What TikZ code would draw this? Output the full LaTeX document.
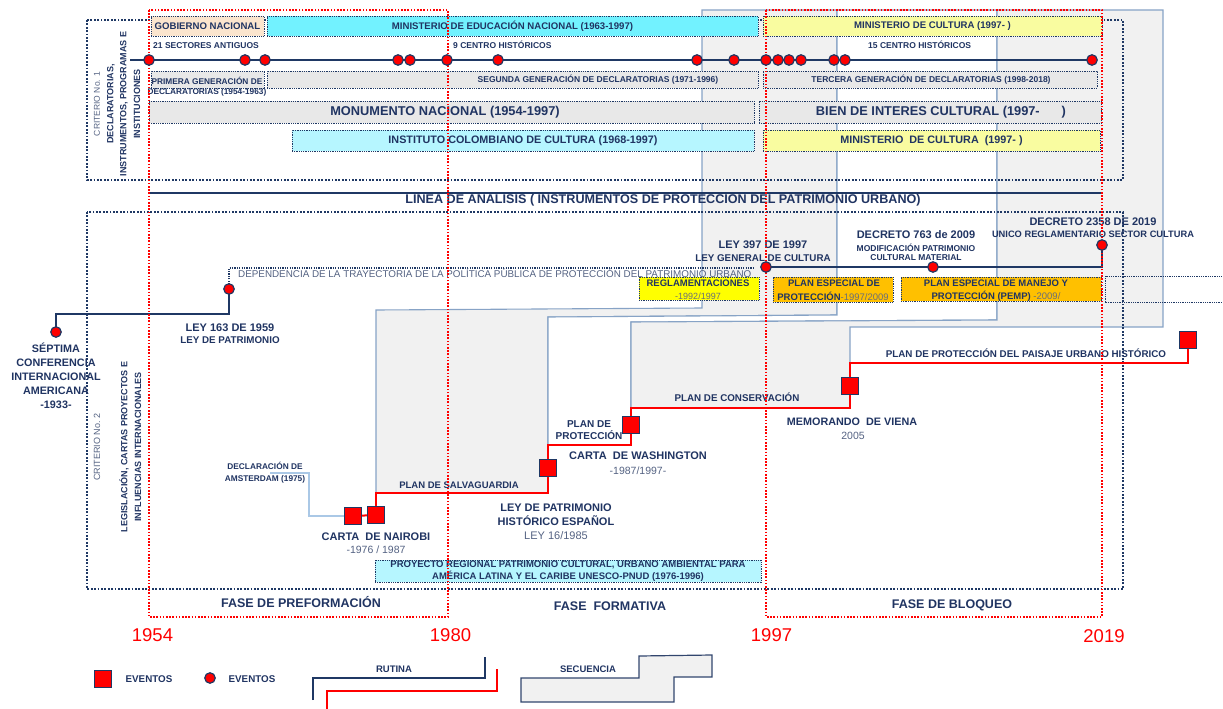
\documentclass[tikz,border=0pt]{standalone}
\usepackage{fontspec}
\setmainfont{Liberation Sans}
\definecolor{navy}{RGB}{31,56,100}
\definecolor{txtnavy}{RGB}{32,52,98}
\definecolor{grayblue}{RGB}{84,98,130}
\definecolor{gtext}{RGB}{105,110,120}
\definecolor{cyanbox}{RGB}{114,242,255}
\definecolor{lcyan}{RGB}{182,246,255}
\definecolor{lyellow}{RGB}{249,252,160}
\definecolor{peach}{RGB}{251,229,206}
\definecolor{gbox}{RGB}{232,232,232}
\definecolor{sgray}{RGB}{241,241,241}
\definecolor{sborder}{RGB}{135,163,198}
\definecolor{orangebox}{RGB}{255,192,0}
\definecolor{ybright}{RGB}{255,255,0}
\definecolor{amsline}{RGB}{170,200,230}
\definecolor{pred}{RGB}{255,0,0}
\definecolor{legborder}{RGB}{50,70,110}
\begin{document}
\begin{tikzpicture}[x=1pt,y=-1pt,
  lab/.style={inner sep=0pt},
  tb/.style={text=txtnavy, font=\bfseries\fontsize{#1}{#1}\selectfont},
  tr/.style={text=grayblue, font=\mdseries\fontsize{#1}{#1}\selectfont},
  tbl/.style 2 args={text=txtnavy, align=center, font=\bfseries\fontsize{#1}{#2}\selectfont},
  box/.style={draw=navy, line width=0.9pt, dash pattern=on 0.9pt off 0.9pt, inner sep=0pt},
  crit/.style={draw=navy, line width=1.8pt, dash pattern=on 1.8pt off 1.6pt},
  phase/.style={draw=pred, line width=1.8pt, dash pattern=on 1.6pt off 1.6pt},
  seq/.style={draw=sborder, line width=1.1pt},
  dot/.style={circle, fill=pred, draw=navy, line width=1.2pt, minimum size=10.5pt, inner sep=0pt},
  sq/.style={rectangle, fill=pred, draw=navy, line width=1.2pt, minimum size=17pt, inner sep=0pt},
  npath/.style={draw=navy, line width=2pt},
  rpath/.style={draw=pred, line width=2pt},
  ndotted/.style={draw=navy, line width=1.2pt, dash pattern=on 1.2pt off 1.2pt}
]
\useasboundingbox (0,0) rectangle (1223,709);

% ---- sequence background shapes
\filldraw[seq, fill=sgray] (376,310) -- (376,493) -- (548,493) -- (548,317) -- (837,315) -- (837,10) -- (702,10) -- (702,308) -- cycle;
\filldraw[seq, fill=white] (548,317) -- (548,445) -- (631,445) -- (631,322) -- (997,320) -- (997,10) -- (837,10) -- (837,315) -- cycle;
\filldraw[seq, fill=sgray] (631,322) -- (631,408) -- (850,408) -- (850,327) -- (1163,327) -- (1163,10) -- (997,10) -- (997,320) -- cycle;

% ---- criterio frames
\draw[crit] (87,20) rectangle (1123,180);
\draw[crit] (87,212) rectangle (1123,589);
\draw[box] (1105,276) rectangle (1230,302);

% ---- criterio labels
\node[lab, rotate=90, tr=8.5] (c1a) at (97,104) {CRITERIO No. 1};
\node[lab, rotate=90, tb=9] (c1b) at (111,104) {DECLARATORIAS,};
\node[lab, rotate=90, tb=9] (c1c) at (124,104) {INSTRUMENTOS, PROGRAMAS E};
\node[lab, rotate=90, tb=9] (c1d) at (137,104) {INSTITUCIONES};
\node[lab, rotate=90, tr=9] (c2a) at (97,447) {CRITERIO No. 2};
\node[lab, rotate=90, tb=9] (c2b) at (124,447) {LEGISLACIÓN, CARTAS PROYECTOS E};
\node[lab, rotate=90, tb=9] (c2c) at (138,447) {INFLUENCIAS INTERNACIONALES};

% ---- top boxes
\node[box, fill=peach, minimum width=113, minimum height=20, tb=9.6] (gob) at (207.5,26) {GOBIERNO NACIONAL};
\node[box, fill=cyanbox, minimum width=491, minimum height=20, tb=9.6] (minedu) at (512.5,26) {MINISTERIO DE EDUCACIÓN NACIONAL (1963-1997)};
\node[box, fill=lyellow, minimum width=339, minimum height=20, tb=9.6] (mincul) at (932.5,26) {MINISTERIO DE CULTURA (1997- )};

\node[lab, anchor=west, tb=8.5] (s21) at (153,46) {21 SECTORES ANTIGUOS};
\node[lab, anchor=west, tb=8.5] (c9) at (453,45) {9 CENTRO HISTÓRICOS};
\node[lab, anchor=west, tb=8.5] (c15) at (868,45) {15 CENTRO HISTÓRICOS};

% timeline
\coordinate (tl0) at (130,60);
\foreach \x [count=\i] in {149,245,265,398,410,447,498,697,734,766,778,789,801,834,845,1092}
  \coordinate (t\i) at (\x,60);
\draw[navy, line width=1.6pt] (tl0) -- (t16);

\node[box, fill=gbox, minimum width=113, minimum height=17] (gen1) at (207.5,79.5) {};
\node[box, fill=gbox, minimum width=491, minimum height=17] (gen2) at (512.5,79.5) {};
\node[box, fill=gbox, minimum width=334, minimum height=17] (gen3) at (930,79.5) {};
\node[lab, tbl={8.3}{10}] (g1t) at (207,87) {PRIMERA GENERACIÓN DE\\DECLARATORIAS (1954-1963)};
\node[lab, tb=8.5] (g2t) at (598,80) {SEGUNDA GENERACIÓN DE DECLARATORIAS (1971-1996)};
\node[lab, tb=8.5] (g3t) at (931,80) {TERCERA GENERACIÓN DE DECLARATORIAS (1998-2018)};

\node[box, fill=gbox, minimum width=605, minimum height=22] (mon) at (451.5,112) {};
\node[box, fill=gbox, minimum width=342, minimum height=22] (bic) at (930,112) {};
\node[lab, tb=12.8] (mont) at (445,112) {MONUMENTO NACIONAL (1954-1997)};
\node[lab, tb=12.8] (bict) at (941,112) {BIEN DE INTERES CULTURAL (1997-\hspace{22pt})};

\node[box, fill=lcyan, minimum width=462, minimum height=21, tb=10.8] (icc) at (523,140.5) {INSTITUTO COLOMBIANO DE CULTURA (1968-1997)};
\node[box, fill=lyellow, minimum width=337, minimum height=21, tb=10.8] (mc2) at (931.5,140.5) {MINISTERIO\ \ DE CULTURA\ \ (1997- )};

% linea de analisis
\coordinate (la0) at (149,193);
\coordinate (la1) at (1102,193);
\draw[navy, line width=2pt] (la0) -- (la1);
\node[lab, tb=12.6] (lat) at (663,200) {LINEA DE ANALISIS ( INSTRUMENTOS DE PROTECCION DEL PATRIMONIO URBANO)};

% ---- criterio 2: navy path
\coordinate (p1933) at (56,332);
\coordinate (k1) at (56,314);
\coordinate (p1959) at (229,289);
\coordinate (k2) at (229,268);
\coordinate (k3) at (753,268);
\draw[npath] (p1933) -- (k1) -| (p1959);
\draw[ndotted] (p1959) -- (k2) -- (k3);
\node[lab, anchor=west, tr=9.85] (dep) at (238,273) {DEPENDENCIA DE LA TRAYECTORIA DE LA POLÍTICA PÚBLICA DE PROTECCIÓN DEL PATRIMONIO URBANO};
\node[dot] (d1933) at (p1933) {};
\node[dot] (d1959) at (p1959) {};
\node[lab, tbl={10.8}{14}] (sept) at (56,376) {SÉPTIMA\\CONFERENCIA\\INTERNACIONAL\\AMERICANA\\-1933-};
\node[lab, tb=11] (l163a) at (230,328) {LEY 163 DE 1959};
\node[lab, tb=9.8] (l163b) at (230,340) {LEY DE PATRIMONIO};

% 1997-2019 path
\coordinate (p1997) at (766,267);
\coordinate (p2009) at (933,267);
\coordinate (k4) at (1102,267);
\coordinate (p2019) at (1102,245);
\draw[npath, line width=2.6pt] (p1997) -- (p2009) -- (k4) -- (p2019);
\node[lab, tb=11] (l397a) at (763,245) {LEY 397 DE 1997};
\node[lab, tb=9.8] (l397b) at (763,258) {LEY GENERAL DE CULTURA};
\node[lab, tb=11] (d763a) at (916,235) {DECRETO 763 de 2009};
\node[lab, tb=8.5] (d763b) at (916,248) {MODIFICACIÓN PATRIMONIO};
\node[lab, tb=8.5] (d763c) at (916,258) {CULTURAL MATERIAL};
\node[lab, tb=11] (d2358a) at (1093,222) {DECRETO 2358 DE 2019};
\node[lab, tb=9.3] (d2358b) at (1093,234) {UNICO REGLAMENTARIO SECTOR CULTURA};

% instrument boxes
\node[box, fill=ybright, minimum width=120, minimum height=23] (regl) at (699,288.5) {};
\node[lab, tb=9.5] (reglt) at (698,283) {REGLAMENTACIONES};
\node[lab, text=gtext, font=\fontsize{9}{9}\selectfont] (regld) at (698,296) {-1992/1997};
\node[box, fill=orangebox, minimum width=120, minimum height=25] (pep) at (833,289.5) {};
\node[lab, tb=9.5] (pepa) at (834,283) {PLAN ESPECIAL DE};
\node[lab, tb=9.5] (pepb) at (833,296) {PROTECCIÓN{\mdseries\color{gtext}-1997/2009}};
\node[box, fill=orangebox, minimum width=200, minimum height=24] (pemp) at (1001,289) {};
\node[lab, tb=9.5] (pempa) at (996,283) {PLAN ESPECIAL DE MANEJO Y};
\node[lab, tb=9.5] (pempb) at (996,296) {PROTECCIÓN (PEMP) {\mdseries\color{gtext}-2009/}};

% ---- red event path
\coordinate (sqA) at (353,516);
\coordinate (sqB) at (376,515);
\coordinate (sqC) at (548,468);
\coordinate (sqD) at (631,425);
\coordinate (sqE) at (850,386);
\coordinate (sqF) at (1188,340);
\coordinate (r1) at (376,493);
\coordinate (r2) at (548,445);
\coordinate (r3) at (631,408);
\coordinate (r4) at (850,363);
\coordinate (am0) at (270,473);
\coordinate (am1) at (309,473);
\coordinate (am2) at (309,516);
\draw[amsline, line width=1.3pt] (am0) -- (am1) -- (am2) -- (sqA);
\draw[rpath] (sqA) -- (sqB);
\draw[rpath] (sqB) -- (r1) -| (sqC);
\draw[rpath] (sqC) -- (r2) -| (sqD);
\draw[rpath] (sqD) -- (r3) -| (sqE);
\draw[rpath] (sqE) -- (r4) -| (sqF);

\node[lab, tbl={8.3}{12}] (ams) at (265,473) {DECLARACIÓN DE\\AMSTERDAM (1975)};
\node[lab, tb=9.5] (salv) at (459,485) {PLAN DE SALVAGUARDIA};
\node[lab, tbl={10}{12}] (pprot) at (589,430) {PLAN DE\\PROTECCIÓN};
\node[lab, tb=11] (wash) at (638,456) {CARTA\ \ DE WASHINGTON};
\node[lab, tr=10.5] (washd) at (638,471) {-1987/1997-};
\node[lab, tbl={11}{14}] (lpe) at (556,515) {LEY DE PATRIMONIO\\HISTÓRICO ESPAÑOL};
\node[lab, tr=11] (lped) at (556,536) {LEY 16/1985};
\node[lab, tb=11] (nai) at (376,537) {CARTA\ \ DE NAIROBI};
\node[lab, tr=10.5] (naid) at (376,550) {-1976 / 1987};
\node[lab, tb=9.8] (pcons) at (737,397) {PLAN DE CONSERVACIÓN};
\node[lab, tb=10.8] (vie) at (852,422) {MEMORANDO\ \ DE VIENA};
\node[lab, tr=10.5] (vied) at (853,436) {2005};
\node[lab, tb=9.8] (pup) at (1026,353) {PLAN DE PROTECCIÓN DEL PAISAJE URBANO HISTÓRICO};

\node[box, fill=lcyan, minimum width=386, minimum height=22, tbl={9.5}{12}] (proy) at (568,571) {PROYECTO REGIONAL PATRIMONIO CULTURAL, URBANO AMBIENTAL PARA\\AMÉRICA LATINA Y EL CARIBE UNESCO-PNUD (1976-1996)};

% ---- phase frames
\draw[phase] (149,10) rectangle (448,617);
\draw[phase] (766,10) rectangle (1102,617);

% ---- markers on top
\foreach \i in {1,...,16} \node[dot] (dot\i) at (t\i) {};
\node[dot] (d1997) at (p1997) {};
\node[dot] (d2009) at (p2009) {};
\node[dot] (d2019) at (p2019) {};
\node[sq] (nA) at (sqA) {};
\node[sq] (nB) at (sqB) {};
\node[sq] (nC) at (sqC) {};
\node[sq] (nD) at (sqD) {};
\node[sq] (nE) at (sqE) {};
\node[sq] (nF) at (sqF) {};

% ---- phase labels & years
\node[lab, tb=12.5] (f1) at (301,602) {FASE DE PREFORMACIÓN};
\node[lab, tb=12.5] (f2) at (610,606) {FASE\ \ FORMATIVA};
\node[lab, tb=12.5] (f3) at (952,605) {FASE DE BLOQUEO};
\node[lab, text=pred, font=\fontsize{18.5}{18.5}\selectfont] (y1) at (152.5,635) {1954};
\node[lab, text=pred, font=\fontsize{18.5}{18.5}\selectfont] (y2) at (450.5,635) {1980};
\node[lab, text=pred, font=\fontsize{18.5}{18.5}\selectfont] (y3) at (771.5,635) {1997};
\node[lab, text=pred, font=\fontsize{18.5}{18.5}\selectfont] (y4) at (1104,636) {2019};

% ---- legend
\node[sq] (lsq) at (103,679) {};
\node[lab, tb=9.8] (lsqt) at (149,679) {EVENTOS};
\node[dot] (ldot) at (210,678) {};
\node[lab, tb=9.8] (ldott) at (252,679) {EVENTOS};
\coordinate (rn0) at (313,700);
\coordinate (rn1) at (313,678);
\coordinate (rn2) at (485,678);
\coordinate (rn3) at (485,657);
\draw[navy, line width=2pt] (rn0) -- (rn1) -- (rn2) -- (rn3);
\coordinate (rr0) at (327,712);
\coordinate (rr1) at (327,691);
\coordinate (rr2) at (497,691);
\coordinate (rr3) at (497,669);
\draw[pred, line width=2pt] (rr0) -- (rr1) -- (rr2) -- (rr3);
\node[lab, tb=9.5] (rut) at (394,669) {RUTINA};
\filldraw[fill=sgray, draw=legborder, line width=1.2pt] (521,678) -- (639,678) -- (639,656) -- (712,655) -- (712,677) -- (674,677) -- (674,702) -- (521,702) -- cycle;
\node[lab, tb=9.5] (secu) at (588,669) {SECUENCIA};
\end{tikzpicture}
\end{document}
